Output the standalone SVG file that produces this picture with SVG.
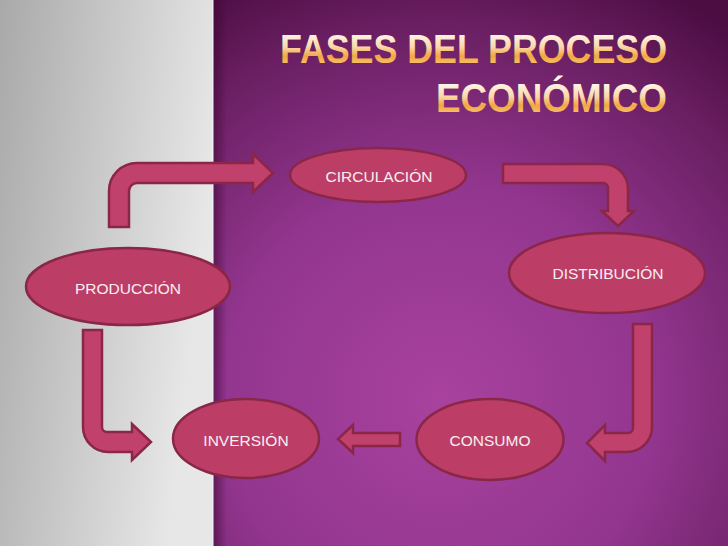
<svg xmlns="http://www.w3.org/2000/svg" width="728" height="546" viewBox="0 0 728 546">
<defs>
<radialGradient id="bg" cx="440" cy="400" r="470" gradientUnits="userSpaceOnUse">
<stop offset="0" stop-color="#a8429e"/>
<stop offset="0.45" stop-color="#933690"/>
<stop offset="0.8" stop-color="#6a1f62"/>
<stop offset="1" stop-color="#4b0d42"/>
</radialGradient>
<linearGradient id="gray" x1="0" y1="0" x2="1" y2="0.3">
<stop offset="0" stop-color="#a9a9a9"/>
<stop offset="1" stop-color="#e7e7e7"/>
</linearGradient>
<linearGradient id="shade" x1="0" y1="0" x2="1" y2="0">
<stop offset="0" stop-color="#3a0530" stop-opacity="0.55"/>
<stop offset="1" stop-color="#3a0530" stop-opacity="0"/>
</linearGradient>
<linearGradient id="t1" x1="0" y1="33" x2="0" y2="64" gradientUnits="userSpaceOnUse">
<stop offset="0" stop-color="#fff8ec"/>
<stop offset="0.45" stop-color="#fbd7a8"/>
<stop offset="0.75" stop-color="#f2a640"/>
<stop offset="1" stop-color="#f6c06a"/>
</linearGradient>
<linearGradient id="t2" x1="0" y1="83" x2="0" y2="113" gradientUnits="userSpaceOnUse">
<stop offset="0" stop-color="#fff8ec"/>
<stop offset="0.45" stop-color="#fbd7a8"/>
<stop offset="0.75" stop-color="#f2a640"/>
<stop offset="1" stop-color="#f6c06a"/>
</linearGradient>
<style>
.node{fill:#bc3e67;stroke:#8a2647;stroke-width:2.5}
.arr{fill:#c0416c;stroke:#8a2647;stroke-width:2.5;stroke-linejoin:miter}
.lbl{font-family:"Liberation Sans","DejaVu Sans",sans-serif;font-size:15.5px;fill:#f7eef2;text-anchor:middle}
.title{font-family:"Liberation Sans","DejaVu Sans",sans-serif;font-size:41px;font-weight:bold;text-anchor:end}
</style>
</defs>
<rect x="0" y="0" width="728" height="546" fill="url(#bg)"/>
<rect x="0" y="0" width="213" height="546" fill="url(#gray)"/>
<rect x="213" y="0" width="14" height="546" fill="url(#shade)"/>
<line x1="213" y1="0" x2="213" y2="546" stroke="#f4f4f4" stroke-width="1"/>
<g id="title">
<text class="title" x="667" y="63" fill="url(#t1)" textLength="387" lengthAdjust="spacingAndGlyphs">FASES DEL PROCESO</text>
<text class="title" x="667" y="112" fill="url(#t2)" textLength="231" lengthAdjust="spacingAndGlyphs">ECONÓMICO</text>
</g>
<g id="connectors">
<path class="arr" d="M109,227 L109,191 A28,28 0 0 1 137,163 L253,163 L253,154 L273,173 L253,192 L253,183 L137,183 A8,8 0 0 0 129,191 L129,227 Z"/>
<path class="arr" d="M503,164 L603,164 A25,25 0 0 1 628,189 L628,211 L634,211 L618,226 L602,211 L608,211 L608,188 A5,5 0 0 0 603,183 L503,183 Z"/>
<path class="arr" d="M83,330 L102,330 L102,427 A5,5 0 0 0 107,432 L132,432 L132,424 L151,442 L132,460 L132,452 L108,452 A25,25 0 0 1 83,427 Z"/>
<path class="arr" d="M652,324 L652,427 A25,25 0 0 1 627,452 L605,452 L605,461 L587,443 L605,425 L605,433 L628,433 A5,5 0 0 0 633,428 L633,324 Z"/>
<path class="arr" d="M400,433 L353,433 L353,425 L338,439 L353,453 L353,446 L400,446 Z"/>
</g>
<g id="circulacion">
<ellipse class="node" cx="378" cy="175" rx="88" ry="27"/>
<text class="lbl" x="379" y="182">CIRCULACIÓN</text>
</g>
<g id="distribucion">
<ellipse class="node" cx="607" cy="273" rx="98" ry="40"/>
<text class="lbl" x="608" y="279">DISTRIBUCIÓN</text>
</g>
<g id="produccion">
<ellipse class="node" cx="128" cy="286.5" rx="102" ry="38.5"/>
<text class="lbl" x="128" y="294">PRODUCCIÓN</text>
</g>
<g id="inversion">
<ellipse class="node" cx="246" cy="438.5" rx="73" ry="39.5"/>
<text class="lbl" x="246" y="446">INVERSIÓN</text>
</g>
<g id="consumo">
<ellipse class="node" cx="490" cy="439.5" rx="73.5" ry="40.5"/>
<text class="lbl" x="490" y="446">CONSUMO</text>
</g>
</svg>
